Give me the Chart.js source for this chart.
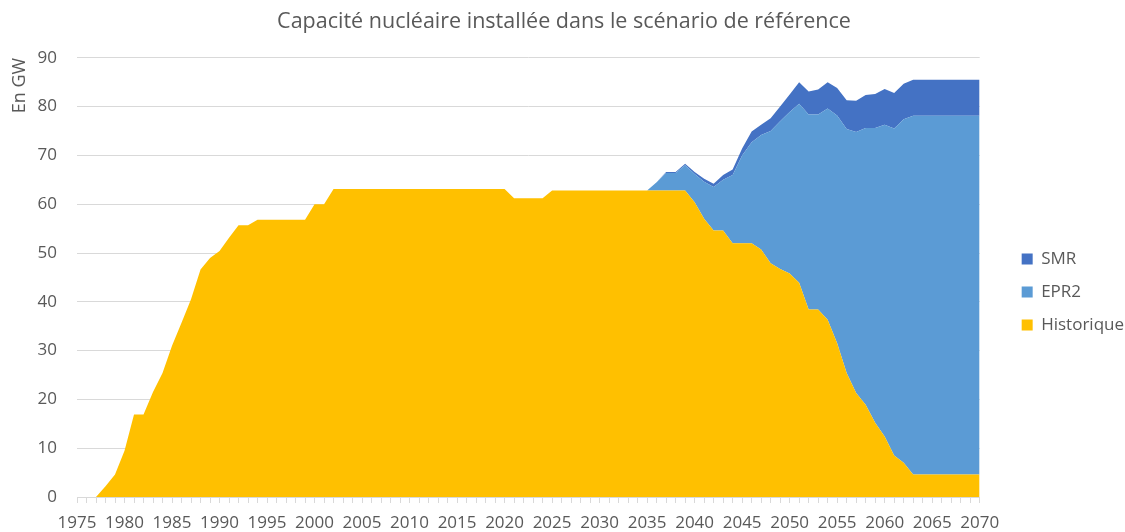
<!DOCTYPE html>
<html lang="fr">
<head>
<meta charset="utf-8">
<title>Capacité nucléaire installée</title>
<script src="https://cdn.jsdelivr.net/npm/chart.js@4/dist/chart.umd.min.js"></script>
<style>
  html, body { margin: 0; padding: 0; background: #ffffff; }
  #wrap { width: 1125px; height: 532px; }
</style>
</head>
<body>
<div id="wrap"><canvas id="chart" width="1125" height="532"></canvas></div>
<script>
// Years 1975 -> 2070
const years = [];
for (let y = 1975; y <= 2070; y++) years.push(String(y));

// Historique (GW), one value per year
const historique = [
    0, 0, 0, 2.2, 4.6, 9.5, 16.9, 16.9, 21.5, 25.4,          // 1975-1984
    31, 35.7, 40.5, 46.6, 49, 50.4, 53.1, 55.7, 55.7, 56.8,  // 1985-1994
    56.8, 56.8, 56.8, 56.8, 56.8, 60, 60, 63.1, 63.1, 63.1,  // 1995-2004
    63.1, 63.1, 63.1, 63.1, 63.1, 63.1, 63.1, 63.1, 63.1, 63.1, // 2005-2014
    63.1, 63.1, 63.1, 63.1, 63.1, 63.1, 61.2, 61.2, 61.2, 61.2, // 2015-2024
    62.8, 62.8, 62.8, 62.8, 62.8, 62.8, 62.8, 62.8, 62.8, 62.8, // 2025-2034
    62.8, 62.8, 62.8, 62.8, 62.8, 60.4, 57, 54.6, 54.6, 52,  // 2035-2044
    52, 52, 50.7, 47.9, 46.7, 45.8, 43.9, 38.4, 38.4, 36.3,  // 2045-2054
    31.5, 25.4, 21.3, 18.9, 15.2, 12.4, 8.5, 7, 4.6, 4.6,    // 2055-2064
    4.6, 4.6, 4.6, 4.6, 4.6, 4.6                             // 2065-2070
];

// EPR2 (GW)
const epr2 = [
    0, 0, 0, 0, 0, 0, 0, 0, 0, 0,
    0, 0, 0, 0, 0, 0, 0, 0, 0, 0,
    0, 0, 0, 0, 0, 0, 0, 0, 0, 0,
    0, 0, 0, 0, 0, 0, 0, 0, 0, 0,
    0, 0, 0, 0, 0, 0, 0, 0, 0, 0,
    0, 0, 0, 0, 0, 0, 0, 0, 0, 0,
    0, 1.7, 3.6, 3.6, 5.2, 5.8, 7.6, 8.9, 10.4, 14,          // 2035-2044
    18, 20.7, 23.5, 27.1, 30.3, 33.1, 36.7, 40, 40, 43.3,    // 2045-2054
    46.7, 50, 53.5, 56.7, 60.4, 63.9, 67, 70.4, 73.5, 73.5,  // 2055-2064
    73.5, 73.5, 73.5, 73.5, 73.5, 73.5                       // 2065-2070
];

// SMR (GW)
const smr = [
    0, 0, 0, 0, 0, 0, 0, 0, 0, 0,
    0, 0, 0, 0, 0, 0, 0, 0, 0, 0,
    0, 0, 0, 0, 0, 0, 0, 0, 0, 0,
    0, 0, 0, 0, 0, 0, 0, 0, 0, 0,
    0, 0, 0, 0, 0, 0, 0, 0, 0, 0,
    0, 0, 0, 0, 0, 0, 0, 0, 0, 0,
    0, 0, 0.2, 0.2, 0.3, 0.4, 0.6, 0.7, 1, 1.1,              // 2035-2044
    1.4, 2.2, 2.1, 2.6, 3, 3.6, 4.4, 4.7, 5.1, 5.4,          // 2045-2054
    5.6, 5.9, 6.4, 6.8, 7, 7.3, 7.3, 7.3, 7.4, 7.4,          // 2055-2064
    7.4, 7.4, 7.4, 7.4, 7.4, 7.4                             // 2065-2070
];

const yTicks = [0, 10, 20, 30, 40, 50, 60, 70, 80, 90];

const textColor = '#595959';
const gridColor = '#d9d9d9';
const fontFamily = '"Open Sans", "Noto Sans", sans-serif';

// Move the legend a little to the right and down, like the original
const legendShift = {
    id: 'legendShift',
    afterLayout(chart) {
        const lg = chart.legend;
        lg.left += 26;
        lg.right += 26;
        lg.top += 26;
        lg.bottom += 26;
    }
};

const ctx = document.getElementById('chart').getContext('2d');
new Chart(ctx, {
    type: 'line',
    data: {
        labels: years,
        datasets: [
            {
                label: 'Historique',
                data: historique,
                backgroundColor: '#ffc000',
                borderWidth: 0,
                pointRadius: 0,
                fill: 'origin'
            },
            {
                label: 'EPR2',
                data: epr2,
                backgroundColor: '#5b9bd5',
                borderWidth: 0,
                pointRadius: 0,
                fill: '-1'
            },
            {
                label: 'SMR',
                data: smr,
                backgroundColor: '#4472c4',
                borderWidth: 0,
                pointRadius: 0,
                fill: '-1'
            }
        ]
    },
    options: {
        responsive: false,
        animation: false,
        layout: { padding: { left: 20, right: 17, top: 0, bottom: 0 } },
        plugins: {
            title: {
                display: true,
                text: 'Capacité nucléaire installée dans le scénario de référence',
                color: textColor,
                font: { family: fontFamily, size: 21.5, weight: 'normal' },
                padding: { top: 9, bottom: 23 }
            },
            legend: {
                position: 'right',
                reverse: true,
                labels: {
                    color: textColor,
                    font: { family: fontFamily, size: 17 },
                    boxWidth: 11,
                    boxHeight: 11,
                    padding: 16
                }
            },
            tooltip: { enabled: false }
        },
        scales: {
            x: {
                offset: false,
                afterFit: function (axis) {
                    axis.height = 35;
                },
                grid: {
                    drawOnChartArea: false,
                    drawTicks: true,
                    tickLength: 6,
                    color: gridColor
                },
                border: { color: gridColor },
                ticks: {
                    autoSkip: false,
                    maxRotation: 0,
                    color: textColor,
                    font: { family: fontFamily, size: 17 },
                    padding: 10,
                    callback: function (value, index) {
                        const year = Number(years[index]);
                        return year % 5 === 0 ? years[index] : '';
                    }
                }
            },
            y: {
                stacked: true,
                min: 0,
                max: 90,
                afterBuildTicks: function (axis) {
                    axis.ticks = yTicks.map(v => ({ value: v }));
                },
                afterFit: function (axis) {
                    axis.width = 57;
                },
                grid: { color: gridColor, drawTicks: false },
                border: { display: false },
                ticks: {
                    color: textColor,
                    font: { family: fontFamily, size: 17 },
                    padding: 20
                },
                title: {
                    display: true,
                    text: 'En GW',
                    align: 'end',
                    color: textColor,
                    font: { family: fontFamily, size: 18 },
                    padding: { top: -11, bottom: 9 }
                }
            }
        }
    },
    plugins: [legendShift]
});
</script>
</body>
</html>
